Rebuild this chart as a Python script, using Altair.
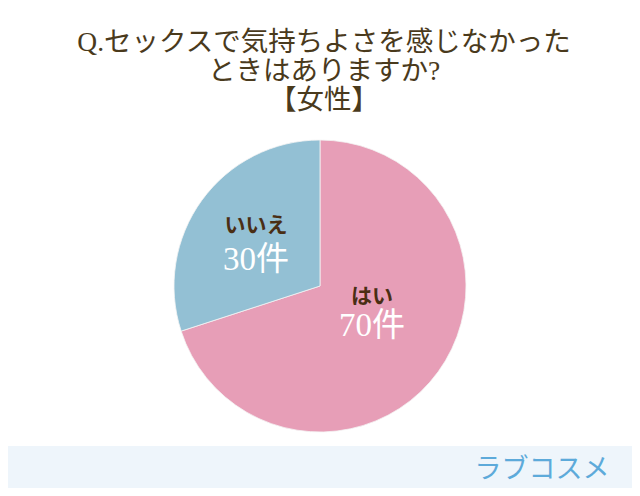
import altair as alt
import pandas as pd

categories = ["はい", "いいえ"]
counts = [70, 30]
count_labels = ["70件", "30件"]
colors = ["#E79EB7", "#93C0D4"]
title_lines = ["Q.セックスで気持ちよさを感じなかった", "ときはありますか?", "【女性】"]
brand = "ラブコスメ"

df = pd.DataFrame({"cat": categories, "n": counts, "order": [0, 1]})

W, H = 624, 480
CX, CY, R = 312, 278, 146

bg = alt.Chart(pd.DataFrame({"a": [0]})).mark_rect(color="white").encode(
    x=alt.value(0), x2=alt.value(W), y=alt.value(0), y2=alt.value(438)
)

pie = alt.Chart(df).mark_arc(outerRadius=R, stroke="#f4f4f4", strokeWidth=0.8).encode(
    theta=alt.Theta("n:Q", stack=True),
    order=alt.Order("order:Q"),
    color=alt.Color("cat:N", scale=alt.Scale(domain=categories, range=colors), legend=None),
    x=alt.value(CX), y=alt.value(CY),
)

font_title = "Liberation Serif, Noto Sans CJK JP"
layers = [bg, pie]
for i, (line, yy) in enumerate(zip(title_lines, [35, 64, 93])):
    layers.append(
        alt.Chart(pd.DataFrame({"t": [line]})).mark_text(
            font=font_title, fontSize=27.5, color="#4A3A1C", align="center", baseline="middle"
        ).encode(text="t:N", x=alt.value(316), y=alt.value(yy))
    )

label_pos = [(364, 289, 318), (248, 218, 252)]
for cat, cl, (lx, ly1, ly2) in zip(categories, count_labels, label_pos):
    layers.append(
        alt.Chart(pd.DataFrame({"t": [cat]})).mark_text(
            font="Noto Sans CJK JP", fontSize=21, fontWeight="bold", color="#4A2E14",
            align="center", baseline="middle"
        ).encode(text="t:N", x=alt.value(lx), y=alt.value(ly1))
    )
    layers.append(
        alt.Chart(pd.DataFrame({"t": [cl]})).mark_text(
            font="Liberation Serif, Noto Sans CJK JP", fontSize=33, color="white",
            align="center", baseline="middle"
        ).encode(text="t:N", x=alt.value(lx), y=alt.value(ly2))
    )

layers.append(
    alt.Chart(pd.DataFrame({"t": [brand]})).mark_text(
        font="Noto Sans CJK JP", fontSize=27, color="#5DAADA", align="center",
        baseline="middle"
    ).encode(text="t:N", x=alt.value(534), y=alt.value(462))
)

chart = alt.layer(*layers).properties(
    width=W, height=H, autosize=alt.AutoSizeParams(type="none"), padding=0,
    background="#EEF5FB"
).configure_view(stroke=None)

chart.save("out.html", embed_options={"renderer": "svg", "actions": False})
